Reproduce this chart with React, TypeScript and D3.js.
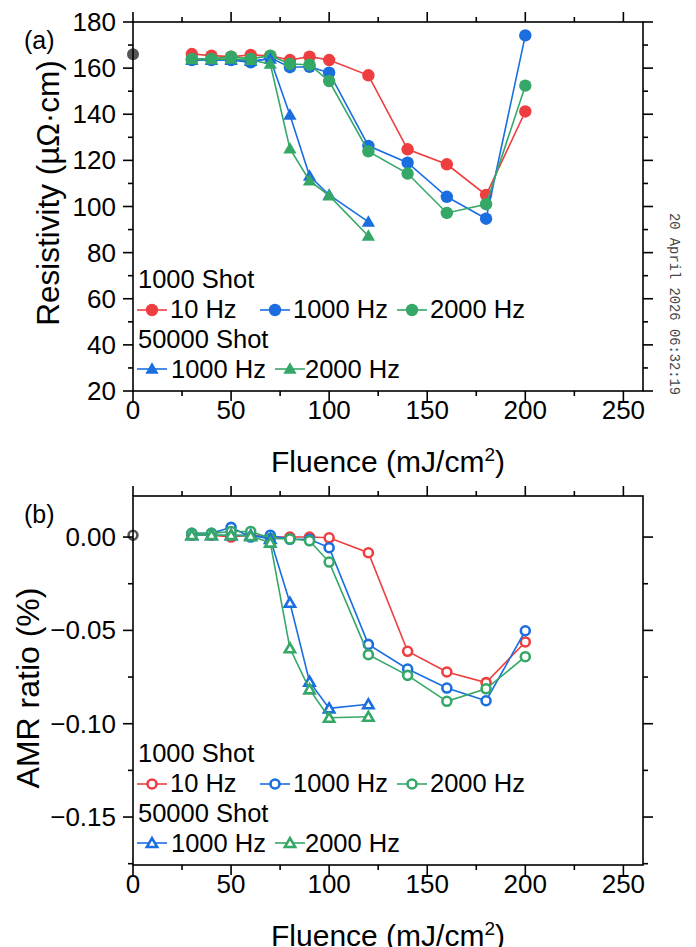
import React from 'react';
import * as d3 from 'd3';

// fluence values (mJ/cm2)
const fluence1000Shot = [30, 40, 50, 60, 70, 80, 90, 100, 120, 140, 160, 180, 200];
const fluence50000Shot = [30, 40, 50, 60, 70, 80, 90, 100, 120];

// as-deposited reference point (fluence 0)
const refFluence = 0;
const refResistivity = 166;
const refAmr = 0.001;

// resistivity (µΩ·cm)
const rho1000Shot10Hz = [166.1, 165.4, 165.0, 165.7, 165.3, 163.5, 165.0, 163.5, 156.9, 124.8, 118.3, 105.0, 141.2];
const rho1000Shot1000Hz = [163.5, 163.5, 163.5, 162.5, 164.5, 160.4, 160.6, 158.0, 126.3, 119.0, 104.2, 94.7, 174.2];
const rho1000Shot2000Hz = [164.0, 164.0, 165.0, 164.0, 165.4, 161.8, 161.5, 154.4, 123.9, 114.3, 97.2, 101.0, 152.4];
const rho50000Shot1000Hz = [163.5, 163.5, 163.5, 163.0, 164.0, 139.7, 113.3, 105.0, 93.3];
const rho50000Shot2000Hz = [163.8, 163.8, 164.0, 163.5, 161.8, 125.1, 111.2, 104.7, 87.2];

// AMR ratio (%)
const amr1000Shot10Hz = [0.001, 0.001, 0.0, 0.001, 0.0, 0.0, 0.0, -0.0004, -0.0084, -0.0612, -0.0723, -0.078, -0.0562];
const amr1000Shot1000Hz = [0.002, 0.002, 0.0052, 0.0, 0.001, -0.0012, -0.0012, -0.0057, -0.0575, -0.0707, -0.0809, -0.0877, -0.0502];
const amr1000Shot2000Hz = [0.002, 0.002, 0.003, 0.003, -0.0007, -0.001, -0.002, -0.0134, -0.063, -0.0741, -0.088, -0.0813, -0.0641];
const amr50000Shot1000Hz = [0.001, 0.001, 0.001, 0.001, -0.001, -0.0352, -0.0775, -0.0918, -0.0896];
const amr50000Shot2000Hz = [0.001, 0.001, 0.001, 0.0005, -0.003, -0.0596, -0.0816, -0.0968, -0.0963];

const xTicks = [0, 50, 100, 150, 200, 250];
const rhoTicks = [20, 40, 60, 80, 100, 120, 140, 160, 180];
const amrTicks = [0, -0.05, -0.1, -0.15];

const RED = '#ee3e3f';
const BLUE = '#1b6ee0';
const GREEN = '#35a867';
const GREY = '#555555';
const FONT = '"Liberation Sans", Arial, sans-serif';

const left = 133;
const right = 643;

const Marker = ({ shape, filled, color, x, y }) => {
  if (shape === 'circle') {
    return filled
      ? <circle cx={x} cy={y} r={6.2} fill={color} />
      : <circle cx={x} cy={y} r={4.5} fill="white" stroke={color} strokeWidth={2.6} />;
  }
  const d = d3.symbol(d3.symbolTriangle, filled ? 76 : 46)();
  return filled
    ? <path d={d} transform={`translate(${x},${y + 1})`} fill={color} />
    : <path d={d} transform={`translate(${x},${y + 1})`} fill="white" stroke={color} strokeWidth={2.6} strokeLinejoin="miter" />;
};

const Panel = ({ top, bottom, yDomain, yTicks, yMinor, yFormat, yLabel, yLabelSize, yLabelX, yLabelY, tag, series, refY, filled }) => {
  const x = d3.scaleLinear().domain([0, 260]).range([left, right]);
  const y = d3.scaleLinear().domain(yDomain).range([bottom, top]);
  const line = d3.line().x(d => x(d[0])).y(d => y(d[1]));
  const xMinor = d3.range(25, 260, 50);

  const legendTop = top + 266;
  const row2 = [
    { s: series[0], lx: 137, tx: 170 },
    { s: series[1], lx: 260, tx: 293 },
    { s: series[2], lx: 397, tx: 430 },
  ];
  const row4 = [
    { s: series[3], lx: 137, tx: 171 },
    { s: series[4], lx: 275, tx: 305 },
  ];

  return (
    <g>
      {/* series */}
      {series.map((s, i) => {
        const pts = s.xs.map((v, j) => [v, s.ys[j]]);
        return (
          <g key={i}>
            <path d={line(pts)} fill="none" stroke={s.color} strokeWidth={1.6} />
            {pts.map((p, j) => (
              <Marker key={j} shape={s.shape} filled={filled} color={s.color} x={x(p[0])} y={y(p[1])} />
            ))}
          </g>
        );
      })}
      {filled
        ? <circle cx={x(refFluence)} cy={y(refY)} r={6} fill={GREY} />
        : <circle cx={x(refFluence)} cy={y(refY)} r={4.4} fill="white" stroke={GREY} strokeWidth={2.6} />}

      {/* frame */}
      <rect x={left} y={top} width={right - left} height={bottom - top} fill="none" stroke="black" strokeWidth={1.6} />

      {/* x ticks, outward on bottom and top */}
      {xTicks.map(t => (
        <g key={'xt' + t}>
          <line x1={x(t)} x2={x(t)} y1={bottom} y2={bottom + 10} stroke="black" strokeWidth={1.6} />
          <line x1={x(t)} x2={x(t)} y1={top} y2={top - 10} stroke="black" strokeWidth={1.6} />
          <text x={x(t)} y={bottom + 28} textAnchor="middle" fontSize={26} fontFamily={FONT}>{t}</text>
        </g>
      ))}
      {xMinor.map(t => (
        <g key={'xm' + t}>
          <line x1={x(t)} x2={x(t)} y1={bottom} y2={bottom + 5} stroke="black" strokeWidth={1.6} />
          <line x1={x(t)} x2={x(t)} y1={top} y2={top - 5} stroke="black" strokeWidth={1.6} />
        </g>
      ))}

      {/* y ticks, outward on left and right */}
      {yTicks.map(t => (
        <g key={'yt' + t}>
          <line x1={left} x2={left - 10} y1={y(t)} y2={y(t)} stroke="black" strokeWidth={1.6} />
          <line x1={right} x2={right + 10} y1={y(t)} y2={y(t)} stroke="black" strokeWidth={1.6} />
          <text x={left - 17} y={y(t) + 9} textAnchor="end" fontSize={26} fontFamily={FONT}>{yFormat(t)}</text>
        </g>
      ))}
      {yMinor.map(t => (
        <g key={'ym' + t}>
          <line x1={left} x2={left - 5} y1={y(t)} y2={y(t)} stroke="black" strokeWidth={1.6} />
          <line x1={right} x2={right + 5} y1={y(t)} y2={y(t)} stroke="black" strokeWidth={1.6} />
        </g>
      ))}

      {/* axis titles */}
      <text x={(left + right) / 2} y={bottom + 81} textAnchor="middle" fontSize={30} fontFamily={FONT}>
        Fluence (mJ/cm<tspan dy={-11} fontSize={19}>2</tspan><tspan dy={11}>)</tspan>
      </text>
      <text transform={`translate(${yLabelX},${yLabelY}) rotate(-90)`} textAnchor="middle" fontSize={yLabelSize} fontFamily={FONT}>{yLabel}</text>
      <text x={24} y={top + 27} fontSize={25} fontFamily={FONT}>{tag}</text>

      {/* legend */}
      <text x={138} y={legendTop} fontSize={25.5} fontFamily={FONT}>1000 Shot</text>
      {row2.map((r, i) => (
        <g key={'l2' + i}>
          <line x1={r.lx} x2={r.lx + 30} y1={legendTop + 22} y2={legendTop + 22} stroke={r.s.color} strokeWidth={1.6} />
          <Marker shape={r.s.shape} filled={filled} color={r.s.color} x={r.lx + 15} y={legendTop + 22} />
          <text x={r.tx} y={legendTop + 30} fontSize={25.5} fontFamily={FONT}>{r.s.label}</text>
        </g>
      ))}
      <text x={138} y={legendTop + 60} fontSize={25.5} fontFamily={FONT}>50000 Shot</text>
      {row4.map((r, i) => (
        <g key={'l4' + i}>
          <line x1={r.lx} x2={r.lx + 30} y1={legendTop + 81} y2={legendTop + 81} stroke={r.s.color} strokeWidth={1.6} />
          <Marker shape={r.s.shape} filled={filled} color={r.s.color} x={r.lx + 15} y={legendTop + 81} />
          <text x={r.tx} y={legendTop + 90} fontSize={25.5} fontFamily={FONT}>{r.s.label}</text>
        </g>
      ))}
    </g>
  );
};

export default function App() {
  const rhoSeries = [
    { xs: fluence1000Shot, ys: rho1000Shot10Hz, color: RED, shape: 'circle', label: '10 Hz' },
    { xs: fluence1000Shot, ys: rho1000Shot1000Hz, color: BLUE, shape: 'circle', label: '1000 Hz' },
    { xs: fluence1000Shot, ys: rho1000Shot2000Hz, color: GREEN, shape: 'circle', label: '2000 Hz' },
    { xs: fluence50000Shot, ys: rho50000Shot1000Hz, color: BLUE, shape: 'triangle', label: '1000 Hz' },
    { xs: fluence50000Shot, ys: rho50000Shot2000Hz, color: GREEN, shape: 'triangle', label: '2000 Hz' },
  ];
  const amrSeries = [
    { xs: fluence1000Shot, ys: amr1000Shot10Hz, color: RED, shape: 'circle', label: '10 Hz' },
    { xs: fluence1000Shot, ys: amr1000Shot1000Hz, color: BLUE, shape: 'circle', label: '1000 Hz' },
    { xs: fluence1000Shot, ys: amr1000Shot2000Hz, color: GREEN, shape: 'circle', label: '2000 Hz' },
    { xs: fluence50000Shot, ys: amr50000Shot1000Hz, color: BLUE, shape: 'triangle', label: '1000 Hz' },
    { xs: fluence50000Shot, ys: amr50000Shot2000Hz, color: GREEN, shape: 'triangle', label: '2000 Hz' },
  ];

  return (
    <svg width={696} height={947} style={{ position: 'absolute', left: 0, top: 0, background: 'white' }}>
      <Panel
        top={22} bottom={391}
        yDomain={[20, 180]} yTicks={rhoTicks} yMinor={d3.range(30, 180, 20)}
        yFormat={d => d3.format('d')(d)}
        yLabel="Resistivity (µΩ·cm)" yLabelSize={31.5} yLabelX={59} yLabelY={193}
        tag="(a)" series={rhoSeries} refY={refResistivity} filled={true}
      />
      <Panel
        top={496} bottom={865}
        yDomain={[-0.1757, 0.022]} yTicks={amrTicks} yMinor={[-0.025, -0.075, -0.125, -0.175]}
        yFormat={d => d3.format('.2f')(d)}
        yLabel="AMR ratio (%)" yLabelSize={32} yLabelX={39} yLabelY={688}
        tag="(b)" series={amrSeries} refY={refAmr} filled={false}
      />
      <text transform="translate(670,213) rotate(90)" fontSize={13.8} fontFamily='"Liberation Mono", "DejaVu Sans Mono", monospace' fill="#444">20 April 2026 06:32:19</text>
    </svg>
  );
}
